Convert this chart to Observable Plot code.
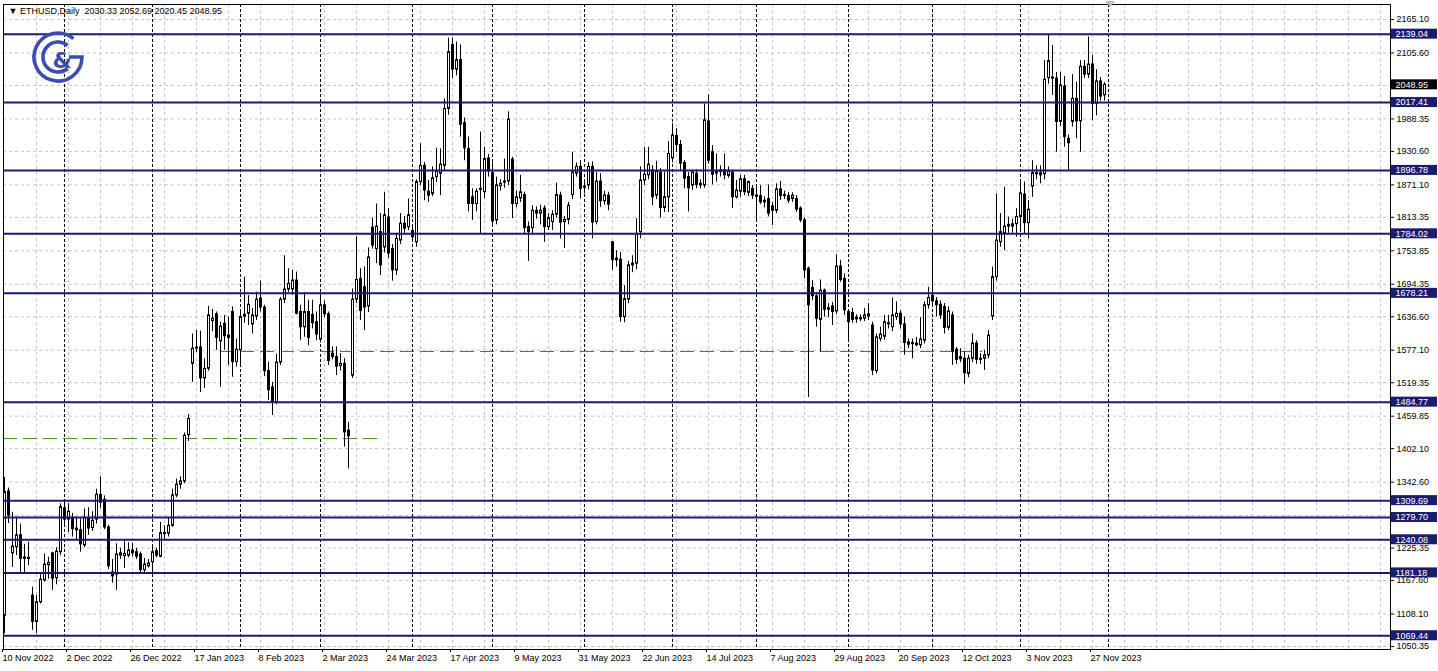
<!DOCTYPE html>
<html><head><meta charset="utf-8">
<script src="https://cdn.jsdelivr.net/npm/d3@7"></script>
<script src="https://cdn.jsdelivr.net/npm/@observablehq/plot@0.6"></script>
<style>
html,body{margin:0;padding:0;background:#fff;}
#wrap{position:relative;width:1438px;height:671px;overflow:hidden;}
#overlay{position:absolute;left:0;top:0;pointer-events:none;}
</style></head><body><div id="wrap"></div>
<script>
// ---- data (ETHUSD daily, weekday bars) ----
const opens = [1105,1326,1216,1227,1248,1209,1208,1141,1094,1129,1168,1195,1216,1172,1218,1296,1276,1277,1260,1257,
1230,1277,1261,1276,1320,1311,1262,1182,1178,1212,1211,1212,1221,1218,1214,1186,1193,1200,1220,1210,
1252,1251,1265,1319,1338,1344,1426,1553,1580,1582,1527,1544,1629,1641,1593,1624,1603,1645,1556,1577,
1640,1642,1623,1637,1669,1653,1540,1511,1485,1555,1667,1685,1685,1701,1645,1618,1645,1640,1627,1596,
1657,1641,1571,1565,1549,1553,1434,1532,1667,1704,1689,1655,1795,1757,1787,1760,1813,1757,1719,1772,
1802,1796,1789,1769,1876,1905,1859,1855,1885,1891,1905,2006,2120,2076,2093,1981,1935,1849,1837,1864,
1858,1918,1892,1808,1869,1875,1877,1916,1837,1847,1853,1796,1794,1825,1820,1829,1796,1805,1818,1852,
1805,1809,1853,1891,1903,1868,1870,1903,1805,1877,1842,1852,1769,1740,1738,1636,1667,1728,1731,1787,
1879,1888,1897,1852,1893,1830,1849,1918,1958,1942,1910,1885,1870,1891,1873,1870,1984,1929,1891,1894,
1897,1887,1893,1849,1859,1881,1857,1864,1852,1851,1840,1846,1833,1825,1863,1851,1851,1846,1846,1829,
1808,1722,1688,1673,1631,1683,1649,1655,1646,1726,1704,1645,1643,1635,1634,1633,1641,1621,1540,1597,
1601,1625,1618,1636,1642,1623,1591,1590,1586,1586,1594,1657,1674,1664,1658,1654,1617,1639,1578,1565,
1562,1535,1562,1589,1562,1562,1568,1637,1707,1769,1784,1800,1797,1801,1814,1854,1803,1868,1890,1892,
1890,2061,2062,2060,1983,2046,1953,1983,2024,1984,2081,2067,2085,2015,2055,2030.33];
const highs = [1351,1332,1289,1280,1268,1232,1236,1156,1141,1180,1215,1209,1218,1226,1304,1311,1304,1287,1280,1277,
1295,1297,1290,1330,1352,1318,1266,1205,1233,1225,1239,1235,1234,1225,1218,1207,1205,1227,1225,1271,
1265,1280,1330,1348,1352,1430,1463,1606,1612,1611,1562,1655,1650,1645,1627,1639,1636,1654,1597,1648,
1707,1674,1651,1680,1700,1657,1556,1520,1570,1671,1745,1722,1719,1716,1657,1680,1666,1666,1645,1674,
1665,1645,1583,1583,1571,1562,1449,1686,1779,1722,1725,1759,1812,1837,1820,1858,1829,1765,1785,1820,
1815,1846,1800,1880,1944,1911,1879,1903,1936,1935,2024,2132,2132,2125,2120,1990,1956,1864,1864,1965,
1938,1925,1910,1885,1880,1917,2001,1920,1860,1888,1858,1805,1834,1832,1835,1834,1820,1825,1874,1858,
1815,1840,1929,1910,1914,1880,1911,1912,1894,1891,1860,1858,1770,1754,1751,1692,1735,1745,1811,1903,
1938,1938,1905,1913,1900,1894,1948,1980,1971,1950,1914,1893,1897,1898,1880,2015,2031,1941,1926,1905,
1926,1903,1897,1879,1888,1888,1878,1870,1870,1870,1850,1871,1840,1873,1877,1860,1857,1857,1852,1832,
1812,1725,1701,1680,1702,1686,1660,1662,1747,1737,1713,1648,1652,1640,1640,1651,1660,1627,1606,1618,
1639,1639,1670,1663,1648,1636,1597,1597,1600,1635,1663,1689,1787,1671,1665,1660,1654,1645,1582,1580,
1574,1568,1606,1594,1571,1577,1612,1725,1855,1820,1867,1814,1810,1829,1876,1876,1843,1914,1905,1905,
2092,2137,2119,2071,2071,2064,1960,2067,2054,2092,2092,2134,2101,2076,2062,2052.69];
const lows = [1073,1269,1191,1212,1182,1182,1194,1079,1073,1126,1165,1170,1150,1160,1212,1262,1253,1245,1240,1218,
1226,1248,1255,1268,1296,1258,1187,1163,1150,1205,1189,1208,1210,1205,1180,1180,1190,1180,1208,1208,
1240,1245,1262,1315,1330,1340,1415,1520,1573,1502,1509,1540,1610,1577,1511,1577,1550,1529,1547,1550,
1625,1621,1606,1630,1645,1530,1488,1461,1480,1550,1660,1680,1675,1640,1594,1600,1585,1615,1594,1590,
1635,1550,1560,1532,1540,1405,1366,1527,1660,1630,1612,1644,1757,1731,1710,1750,1740,1700,1710,1765,
1785,1790,1770,1760,1870,1843,1840,1850,1875,1852,1895,1995,2060,2065,1956,1914,1823,1808,1823,1784,
1846,1885,1800,1800,1860,1865,1870,1811,1830,1840,1784,1735,1784,1810,1800,1769,1790,1790,1812,1775,
1758,1800,1845,1885,1846,1855,1862,1775,1800,1831,1835,1825,1719,1725,1627,1626,1660,1715,1720,1775,
1870,1880,1834,1845,1812,1822,1822,1910,1929,1897,1864,1823,1861,1864,1864,1865,1908,1871,1876,1885,
1880,1883,1829,1846,1849,1852,1850,1845,1805,1836,1830,1814,1799,1820,1843,1845,1838,1840,1822,1804,
1704,1493,1665,1618,1574,1636,1635,1621,1640,1698,1639,1591,1625,1625,1628,1628,1630,1532,1535,1592,
1595,1615,1610,1630,1615,1568,1580,1562,1583,1580,1588,1650,1655,1636,1632,1606,1612,1550,1552,1555,
1517,1528,1555,1552,1552,1541,1562,1630,1700,1760,1754,1785,1785,1778,1787,1784,1775,1849,1880,1873,
1880,2050,2030,1929,1975,1938,1897,1974,1953,1929,2060,2060,1985,1994,2020,2020.45];
const closes = [1325,1283,1228,1248,1206,1206,1206,1094,1129,1169,1196,1199,1171,1219,1298,1276,1290,1259,1257,1232,
1279,1260,1274,1320,1306,1262,1193,1175,1214,1216,1215,1221,1216,1210,1186,1196,1198,1218,1212,1252,
1250,1265,1319,1338,1344,1425,1455,1580,1582,1527,1544,1639,1633,1599,1619,1602,1599,1556,1578,1636,
1637,1658,1639,1667,1653,1540,1506,1485,1555,1667,1685,1695,1701,1642,1618,1645,1599,1625,1605,1657,
1641,1558,1565,1548,1553,1431,1424,1667,1702,1647,1653,1742,1763,1797,1728,1817,1749,1719,1775,1802,
1793,1817,1778,1876,1905,1861,1852,1883,1894,1907,2006,2107,2076,2093,1978,1936,1837,1837,1859,1862,
1917,1895,1806,1870,1873,1877,1987,1837,1849,1858,1794,1787,1825,1820,1825,1796,1812,1818,1853,1804,
1809,1834,1893,1903,1864,1866,1903,1804,1877,1842,1852,1836,1737,1737,1636,1668,1728,1731,1784,1879,
1889,1907,1849,1895,1830,1849,1926,1959,1942,1909,1882,1865,1893,1871,1870,1986,1914,1889,1895,1897,
1888,1895,1849,1861,1881,1858,1876,1852,1850,1840,1843,1820,1825,1863,1851,1853,1843,1852,1827,1808,
1719,1657,1673,1633,1683,1649,1652,1645,1726,1702,1648,1627,1631,1632,1632,1639,1637,1541,1600,1605,
1627,1623,1639,1642,1623,1590,1587,1588,1589,1596,1657,1670,1664,1657,1639,1617,1646,1575,1560,1561,
1536,1562,1589,1560,1560,1568,1603,1707,1772,1787,1797,1797,1801,1814,1856,1803,1827,1892,1892,1888,
2058,2091,2060,1983,2048,1956,1945,2024,1984,2081,2067,2085,2015,2055,2028,2048.95];

const levels = [2139.04, 2017.41, 1896.78, 1784.02, 1678.21, 1484.77, 1309.69, 1279.70, 1240.08, 1181.18, 1069.44];
const priceTicks = [2165.10, 2105.60, 1988.35, 1930.60, 1871.10, 1813.35, 1753.85, 1694.35, 1636.60, 1577.10,
  1519.35, 1459.85, 1402.10, 1342.60, 1225.35, 1167.60, 1108.10, 1050.35];
const hiddenGridTicks = [2047.85, 1283.10];
const dateLabels = ["10 Nov 2022","2 Dec 2022","26 Dec 2022","17 Jan 2023","8 Feb 2023","2 Mar 2023",
  "24 Mar 2023","17 Apr 2023","9 May 2023","31 May 2023","22 Jun 2023","14 Jul 2023","7 Aug 2023",
  "29 Aug 2023","20 Sep 2023","12 Oct 2023","3 Nov 2023","27 Nov 2023"];
const monthStartBars = [15, 37, 59, 79, 102, 122, 145, 167, 188, 211, 232, 254, 276];
const greenLines = [{price: 1420.0, fromBar: -0.25, toBar: 94.5}, {price: 1574.8, fromBar: 54, toBar: 244.5}];
const lastPrice = 2048.95;
const header = "▼ ETHUSD,Daily  2030.33 2052.69 2020.45 2048.95";

// ---- build ----
const W = 1438, H = 671;
const mL = 3, mR = 48, mT = 4, mB = 22;
const xDom = [-0.25, 346.5];
const yDom = [1045.0, 2191.77];
const barsPerPx = (xDom[1] - xDom[0]) / (W - mL - mR);
const pricePerPx = (yDom[1] - yDom[0]) / (H - mT - mB);

const candles = opens.map((o, i) => {
  const c = closes[i];
  return {i, o, c, h: Math.max(highs[i], o, c), l: Math.min(lows[i], o, c), up: c >= o};
});

const navy = "#1b1b6f";
const gridCol = "#c4c4c4";
const boxX1 = xDom[1] + 1 * barsPerPx, boxX2 = xDom[1] + 47 * barsPerPx;
const boxHalf = 5 * pricePerPx;

const tickBars = dateLabels.map((_, k) => k * 16);
const vGrid = d3.range(8, 345, 8);

const chart = Plot.plot({
  width: W, height: H,
  marginLeft: mL, marginRight: mR, marginTop: mT, marginBottom: mB,
  x: {domain: xDom, axis: null},
  y: {domain: yDom, axis: null},
  style: {fontFamily: "'Liberation Sans', Arial, sans-serif", fontSize: "9px", background: "white", color: "black"},
  marks: [
    Plot.ruleY([...priceTicks, ...hiddenGridTicks], {stroke: gridCol, strokeDasharray: "3,3"}),
    Plot.ruleX(vGrid, {stroke: gridCol, strokeDasharray: "3,3"}),
    Plot.ruleX(monthStartBars, {stroke: "black", strokeDasharray: "3,2"}),
    Plot.ruleY(greenLines, {y: "price", x1: "fromBar", x2: "toBar", stroke: "#3f8c12", strokeDasharray: "14,6"}),
    Plot.ruleX(candles, {x: "i", y1: "l", y2: "h", stroke: "black"}),
    Plot.rect(candles, {x1: d => d.i - 0.25, x2: d => d.i + 0.25, y1: "o", y2: "c",
      fill: d => d.up ? "white" : "black", stroke: "black", dx: 0.5}),
    Plot.ruleY(levels, {stroke: navy, strokeWidth: 2}),
    Plot.frame({stroke: "black"}),
    Plot.axisY({anchor: "right", ticks: priceTicks, tickFormat: d => d.toFixed(2), tickSize: 3, tickPadding: 3, fontSize: 9}),
    Plot.axisX({ticks: tickBars, tickFormat: d => dateLabels[d / 16], tickSize: 3, tickPadding: 2,
      textAnchor: "start", dx: -2, fontSize: 9}),
    Plot.rect(levels, {x1: boxX1, x2: boxX2, y1: d => d - boxHalf, y2: d => d + boxHalf, fill: navy}),
    Plot.text(levels, {x: boxX1, y: d => d, dx: 4, text: d => d.toFixed(2), fill: "white", textAnchor: "start", fontSize: 9}),
    Plot.rect([lastPrice], {x1: boxX1, x2: boxX2, y1: d => d - boxHalf, y2: d => d + boxHalf, fill: "black"}),
    Plot.text([lastPrice], {x: boxX1, y: d => d, dx: 4, text: d => d.toFixed(2), fill: "white", textAnchor: "start", fontSize: 9}),
    Plot.text([header], {frameAnchor: "top-left", dx: 5, dy: 3, lineAnchor: "top", textAnchor: "start", fontSize: 9, fill: "black"})
  ]
});
document.getElementById("wrap").appendChild(chart);

// decorative logo and shift marker
const ns = "http://www.w3.org/2000/svg";
const ov = document.createElementNS(ns, "svg");
ov.setAttribute("id", "overlay");
ov.setAttribute("width", W); ov.setAttribute("height", H);
ov.innerHTML = `
 <g fill="none" stroke="#3d4cb5" stroke-width="3.6">
  <path d="M73.4 38.6 A24 24 0 1 0 82 57 L69 57"/>
  <path d="M67.6 45.5 A15 15 0 1 0 67.6 68.5"/>
 </g>
 <text x="62" y="68" text-anchor="middle" font-family="DejaVu Sans" font-weight="bold" font-size="22" fill="#3d4cb5">&amp;</text>
 <polygon points="1105,1 1115,1 1110,7" fill="#bdbdbd"/>`;
document.getElementById("wrap").appendChild(ov);
</script></body></html>
